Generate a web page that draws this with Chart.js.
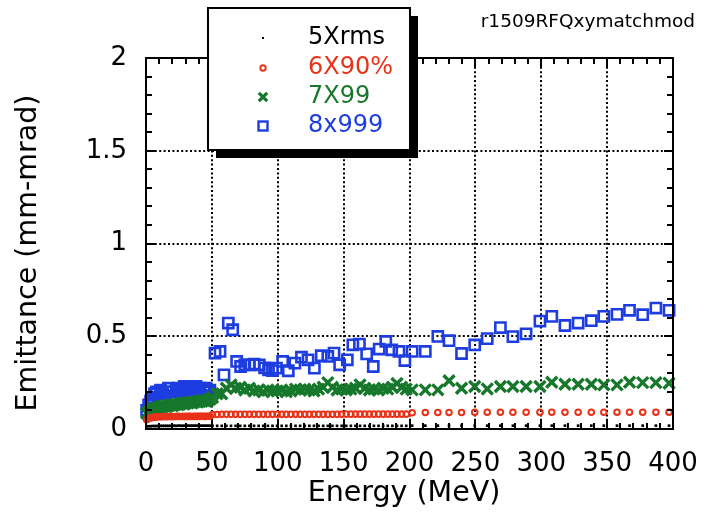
<!DOCTYPE html>
<html>
<head>
<meta charset="utf-8">
<script src="https://cdn.jsdelivr.net/npm/chart.js@4.4.0/dist/chart.umd.min.js"></script>
<style>
  html, body { margin: 0; padding: 0; background: #ffffff; }
  #wrap { width: 704px; height: 515px; }
</style>
</head>
<body>
<div id="wrap"><canvas id="c" width="704" height="515"></canvas></div>
<script>
// ---- text ----
const runTag = 'r1509RFQxymatchmod';
const xTitle = 'Energy (MeV)';
const yTitle = 'Emittance (mm-mrad)';
const seriesNames = ['5Xrms', '6X90%', '7X99', '8x999'];
const seriesColors = ['#000000', '#e8321a', '#17782c', '#1e3de0'];

// ---- axes ----
const xTickValues = [0, 50, 100, 150, 200, 250, 300, 350, 400];
const xTickLabels = ['0', '50', '100', '150', '200', '250', '300', '350', '400'];
const yTickValues = [0, 0.5, 1, 1.5, 2];
const yTickLabels = ['0', '0.5', '1', '1.5', '2'];

// ---- energies (MeV) ----
const energyLow = [0.5, 2, 3.5, 5, 6.5, 8, 9.5, 11, 12.5, 14, 15.5, 17, 18.5, 20, 21.5, 23, 24.5,
  26, 27.5, 29, 30.5, 32, 33.5, 35, 36.5, 38, 39.5, 41, 42.5, 44, 45.5, 47, 48.5];
const energyMid = [50.5, 54, 57.5, 61, 64.5, 68, 71.5, 75, 78.5, 82, 85.5, 89, 92.5, 96, 99.5,
  103, 106.5, 110, 113.5, 117, 120.5, 124, 127.5, 131, 134.5, 138, 141.5, 145, 148.5, 152,
  155.5, 159, 162.5, 166, 169.5, 173, 176.5, 180, 183.5, 187, 190.5, 194, 197.5];
const energyMidBlue = [52.4, 56.2, 59.2, 62.5, 65.8, 68.8, 71.8, 75, 78.5, 82, 86, 90, 93, 96, 99,
  103.7, 108, 113, 118, 123, 127.8, 133, 138, 142.7, 147, 152.8, 157, 162, 167.5, 172.5, 177,
  182, 186.5, 192, 196.5];
const energyHigh = [202, 212, 221.5, 230, 239.5, 249.5, 259, 269, 278.5, 288.5, 299, 308, 318,
  328, 338, 347.5, 357.5, 367, 377, 387, 397];

// ---- 5Xrms ----
const rmsLow = [0.014, 0.015, 0.015, 0.016, 0.016, 0.016, 0.017, 0.017, 0.017, 0.017, 0.017,
  0.017, 0.017, 0.017, 0.018, 0.017, 0.018, 0.018, 0.017, 0.018, 0.018, 0.018, 0.018, 0.018,
  0.018, 0.018, 0.018, 0.018, 0.018, 0.018, 0.018, 0.018, 0.018];
const rmsMid = [0.017, 0.017, 0.017, 0.017, 0.017, 0.017, 0.017, 0.017, 0.017, 0.017, 0.017,
  0.017, 0.017, 0.017, 0.017, 0.017, 0.017, 0.017, 0.017, 0.017, 0.017, 0.017, 0.017, 0.017,
  0.017, 0.017, 0.017, 0.017, 0.017, 0.017, 0.017, 0.017, 0.017, 0.017, 0.017, 0.017, 0.017,
  0.017, 0.017, 0.017, 0.017, 0.017, 0.017];
const rmsHigh = [0.018, 0.018, 0.018, 0.018, 0.018, 0.018, 0.018, 0.018, 0.018, 0.018, 0.018,
  0.018, 0.018, 0.018, 0.018, 0.018, 0.018, 0.018, 0.018, 0.018, 0.018];

// ---- 6X90% ----
const p90Low = [0.05, 0.056, 0.06, 0.062, 0.064, 0.065, 0.066, 0.066, 0.066, 0.067, 0.066, 0.067,
  0.067, 0.066, 0.067, 0.067, 0.068, 0.067, 0.067, 0.068, 0.067, 0.068, 0.068, 0.067, 0.068,
  0.068, 0.068, 0.068, 0.069, 0.068, 0.068, 0.069, 0.069];
const p90Mid = [0.078, 0.078, 0.079, 0.079, 0.079, 0.079, 0.079, 0.079, 0.079, 0.079, 0.079,
  0.079, 0.079, 0.079, 0.079, 0.079, 0.079, 0.079, 0.079, 0.079, 0.079, 0.079, 0.079, 0.079,
  0.079, 0.079, 0.079, 0.079, 0.079, 0.08, 0.08, 0.08, 0.08, 0.08, 0.08, 0.08, 0.08, 0.08,
  0.08, 0.08, 0.08, 0.08, 0.08];
const p90High = [0.088, 0.089, 0.089, 0.089, 0.089, 0.09, 0.09, 0.09, 0.09, 0.09, 0.09, 0.09,
  0.09, 0.09, 0.09, 0.09, 0.09, 0.09, 0.09, 0.09, 0.09];

// ---- 7X99 ----
const p99Low = [0.085, 0.09, 0.1, 0.105, 0.11, 0.11, 0.115, 0.12, 0.12, 0.125, 0.12, 0.125,
  0.13, 0.125, 0.13, 0.135, 0.13, 0.135, 0.14, 0.135, 0.14, 0.14, 0.145, 0.14, 0.145, 0.15,
  0.145, 0.15, 0.15, 0.155, 0.15, 0.155, 0.16];
const p99Mid = [0.17, 0.19, 0.19, 0.22, 0.238, 0.22, 0.225, 0.21, 0.22, 0.205, 0.21, 0.2, 0.21,
  0.205, 0.205, 0.21, 0.2, 0.205, 0.215, 0.21, 0.215, 0.21, 0.205, 0.215, 0.225, 0.25, 0.225,
  0.21, 0.215, 0.21, 0.215, 0.22, 0.238, 0.22, 0.21, 0.215, 0.21, 0.22, 0.215, 0.225, 0.245,
  0.225, 0.215];
const p99High = [0.211, 0.211, 0.211, 0.26, 0.22, 0.229, 0.216, 0.229, 0.229, 0.229, 0.229,
  0.252, 0.241, 0.241, 0.241, 0.238, 0.238, 0.252, 0.25, 0.25, 0.247];

// ---- 8x999 ----
const p999Low = [0.1, 0.13, 0.15, 0.17, 0.19, 0.2, 0.17, 0.21, 0.19, 0.16, 0.2, 0.22, 0.18, 0.2,
  0.17, 0.21, 0.22, 0.19, 0.2, 0.23, 0.18, 0.21, 0.22, 0.19, 0.21, 0.23, 0.2, 0.22, 0.18, 0.21,
  0.22, 0.2, 0.21];
const p999Mid = [0.409, 0.418, 0.292, 0.571, 0.535, 0.364, 0.337, 0.346, 0.346, 0.35, 0.346,
  0.33, 0.319, 0.315, 0.328, 0.364, 0.314, 0.355, 0.387, 0.373, 0.328, 0.395, 0.391, 0.409,
  0.346, 0.373, 0.454, 0.458, 0.405, 0.337, 0.431, 0.472, 0.427, 0.418, 0.369];
const p999High = [0.418, 0.418, 0.499, 0.476, 0.407, 0.453, 0.487, 0.547, 0.498, 0.513, 0.582,
  0.607, 0.558, 0.571, 0.584, 0.607, 0.618, 0.64, 0.616, 0.652, 0.64];

const FONT = '"DejaVu Sans", "Liberation Sans", sans-serif';

function pairs(xs, ys) {
  return xs.map((x, i) => ({ x: x, y: ys[i] }));
}

const energyAll = energyLow.concat(energyMid, energyHigh);
const energyBlue = energyLow.concat(energyMidBlue, energyHigh);

const datasets = [
  {
    label: seriesNames[0],
    data: pairs(energyAll, rmsLow.concat(rmsMid, rmsHigh)),
    pointStyle: 'rect', pointRadius: 1.9, pointBorderWidth: 0,
    pointBackgroundColor: seriesColors[0], pointBorderColor: seriesColors[0], order: 0
  },
  {
    label: seriesNames[1],
    data: pairs(energyAll, p90Low.concat(p90Mid, p90High)),
    pointStyle: 'circle', pointRadius: 2.8, pointBorderWidth: 2,
    pointBackgroundColor: 'rgba(255,255,255,0)', pointBorderColor: seriesColors[1], order: 1
  },
  {
    label: seriesNames[2],
    data: pairs(energyAll, p99Low.concat(p99Mid, p99High)),
    pointStyle: 'crossRot', pointRadius: 7.8, pointBorderWidth: 3.4,
    pointBackgroundColor: seriesColors[2], pointBorderColor: seriesColors[2], order: 2
  },
  {
    label: seriesNames[3],
    data: pairs(energyBlue, p999Low.concat(p999Mid, p999High)),
    pointStyle: 'rect', pointRadius: 7.2, pointBorderWidth: 2.6,
    pointBackgroundColor: 'rgba(255,255,255,0)', pointBorderColor: seriesColors[3], order: 3
  }
];
datasets.forEach(d => { d.showLine = false; d.clip = false; d.pointHoverRadius = d.pointRadius; });

// Box frame, dotted grid, inward ticks, legend panel and free-standing labels
const frameDecor = {
  id: 'frameDecor',
  beforeDatasetsDraw(chart) {
    const { ctx, chartArea: a, scales: { x, y } } = chart;
    ctx.save();
    ctx.strokeStyle = '#000';
    ctx.lineWidth = 2;
    ctx.setLineDash([2, 2.4]);
    xTickValues.slice(1, -1).forEach(v => {
      const px = Math.round(x.getPixelForValue(v));
      ctx.beginPath(); ctx.moveTo(px, a.top); ctx.lineTo(px, a.bottom); ctx.stroke();
    });
    yTickValues.slice(1, -1).forEach(v => {
      const py = Math.round(y.getPixelForValue(v));
      ctx.beginPath(); ctx.moveTo(a.left, py); ctx.lineTo(a.right, py); ctx.stroke();
    });
    ctx.restore();
  },
  afterDatasetsDraw(chart) {
    const { ctx, chartArea: a, scales: { x, y } } = chart;
    ctx.save();
    ctx.strokeStyle = '#000';
    ctx.lineWidth = 2;
    ctx.setLineDash([]);

    // inward tick marks on all four sides
    for (let v = 0; v <= 400; v += 10) {
      const px = Math.round(x.getPixelForValue(v));
      const len = (v % 50 === 0) ? 9 : 6;
      ctx.beginPath();
      ctx.moveTo(px, a.bottom); ctx.lineTo(px, a.bottom - len);
      ctx.moveTo(px, a.top); ctx.lineTo(px, a.top + len);
      ctx.stroke();
    }
    for (let k = 0; k <= 20; k++) {
      const py = Math.round(y.getPixelForValue(k / 10));
      const len = (k % 5 === 0) ? 9 : 6;
      ctx.beginPath();
      ctx.moveTo(a.left, py); ctx.lineTo(a.left + len, py);
      ctx.moveTo(a.right, py); ctx.lineTo(a.right - len, py);
      ctx.stroke();
    }
    ctx.strokeRect(a.left, a.top, a.right - a.left, a.bottom - a.top);

    // legend panel with drop shadow
    const bx = 208, by = 8, bw = 202, bh = 142, sh = 8;
    ctx.fillStyle = '#000';
    ctx.fillRect(bx + sh, by + sh, bw, bh);
    ctx.fillStyle = '#fff';
    ctx.fillRect(bx, by, bw, bh);
    ctx.lineWidth = 2;
    ctx.strokeRect(bx, by, bw, bh);

    const rowY = [38, 68, 97, 126];
    const mx = 263, tx = 308;
    ctx.font = '24px ' + FONT;
    ctx.textAlign = 'left';
    ctx.textBaseline = 'middle';
    seriesNames.forEach((name, i) => {
      const cy = rowY[i];
      const col = seriesColors[i];
      ctx.fillStyle = col; ctx.strokeStyle = col;
      if (i === 0) {
        ctx.fillRect(mx - 1, cy - 1, 2, 2);
      } else if (i === 1) {
        ctx.lineWidth = 1.9;
        ctx.beginPath(); ctx.arc(mx, cy, 2.7, 0, Math.PI * 2); ctx.stroke();
      } else if (i === 2) {
        ctx.lineWidth = 3.2;
        ctx.beginPath();
        ctx.moveTo(mx - 4.2, cy - 4.2); ctx.lineTo(mx + 4.2, cy + 4.2);
        ctx.moveTo(mx + 4.2, cy - 4.2); ctx.lineTo(mx - 4.2, cy + 4.2);
        ctx.stroke();
      } else {
        ctx.lineWidth = 2.4;
        ctx.strokeRect(mx - 4.5, cy - 4.5, 9, 9);
      }
      ctx.fillText(name, tx, cy);
    });

    // run tag
    ctx.fillStyle = '#000';
    ctx.font = '18.5px ' + FONT;
    ctx.textAlign = 'right';
    ctx.textBaseline = 'middle';
    ctx.fillText(runTag, 695, 22);

    // axis titles
    ctx.font = '28.5px ' + FONT;
    ctx.textAlign = 'center';
    ctx.fillText(xTitle, 404, 494);
    ctx.save();
    ctx.translate(29, 253);
    ctx.rotate(-Math.PI / 2);
    ctx.fillText(yTitle, 0, 0);
    ctx.restore();

    ctx.restore();
  }
};

new Chart(document.getElementById('c').getContext('2d'), {
  type: 'scatter',
  data: { datasets: datasets },
  options: {
    responsive: false,
    animation: false,
    devicePixelRatio: 1,
    events: [],
    layout: { padding: { left: 0, top: 58, right: 31, bottom: 0 } },
    plugins: { legend: { display: false }, tooltip: { enabled: false } },
    scales: {
      x: {
        type: 'linear', min: 0, max: 400,
        afterBuildTicks: s => { s.ticks = xTickValues.map(v => ({ value: v })); },
        afterFit: s => { s.height = 86; s.paddingLeft = 0; s.paddingRight = 0; },
        ticks: {
          callback: (v, i) => xTickLabels[i],
          font: { family: FONT, size: 26 }, color: '#000',
          padding: 20, maxRotation: 0, autoSkip: false
        },
        grid: { display: false, drawTicks: false },
        border: { display: false }
      },
      y: {
        type: 'linear', min: 0, max: 2,
        afterBuildTicks: s => { s.ticks = yTickValues.map(v => ({ value: v })); },
        afterFit: s => { s.width = 146; s.paddingTop = 0; s.paddingBottom = 0; },
        ticks: {
          callback: (v, i) => yTickLabels[i],
          font: { family: FONT, size: 26 }, color: '#000',
          padding: 19, autoSkip: false
        },
        grid: { display: false, drawTicks: false },
        border: { display: false }
      }
    }
  },
  plugins: [frameDecor]
});
</script>
</body>
</html>
